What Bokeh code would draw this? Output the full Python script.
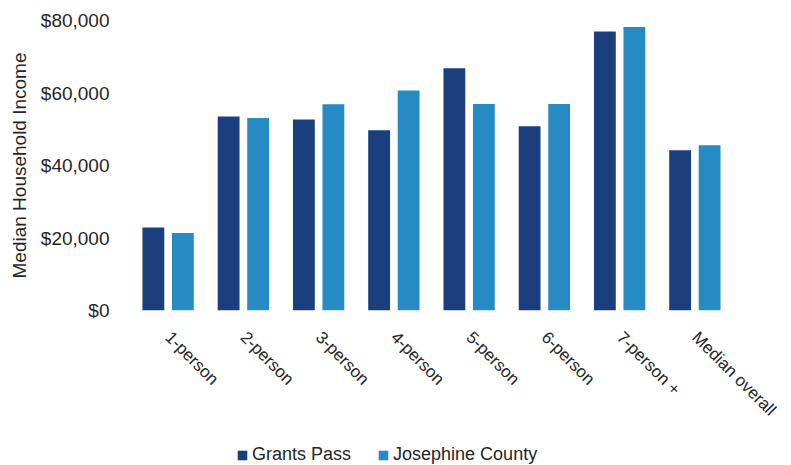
import math
from bokeh.plotting import figure
from bokeh.layouts import column
from bokeh.models import ColumnDataSource, FactorRange, Range1d, NumeralTickFormatter, FixedTicker, Legend, LegendItem
from bokeh.transform import dodge
from bokeh.embed import file_html
from bokeh.resources import INLINE

categories = ["1-person", "2-person", "3-person", "4-person", "5-person", "6-person", "7-person +", "Median overall"]
grants_pass = [22900, 53500, 52700, 49700, 66800, 50800, 77000, 44200]
josephine_county = [21400, 53100, 56900, 60700, 57000, 57000, 78200, 45600]
y_ticks = [0, 20000, 40000, 60000, 80000]
series_names = ["Grants Pass", "Josephine County"]

GP_COLOR = "#1b3f7c"
JC_COLOR = "#278bc3"
FONT = "Liberation Sans"
TEXT_COLOR = "#262626"

src = ColumnDataSource(dict(cat=categories, gp=grants_pass, jc=josephine_county))

p = figure(width=791, height=435, x_range=FactorRange(factors=categories),
           y_range=Range1d(0, 80000), output_backend="svg", toolbar_location=None,
           min_border_left=130, min_border_right=59, min_border_top=20, min_border_bottom=125)

r1 = p.vbar(x=dodge("cat", -0.196, range=p.x_range), top="gp", width=0.29, source=src,
            fill_color=GP_COLOR, line_color=None)
r2 = p.vbar(x=dodge("cat", 0.196, range=p.x_range), top="jc", width=0.29, source=src,
            fill_color=JC_COLOR, line_color=None)

p.outline_line_color = None
p.xgrid.grid_line_color = None
p.ygrid.grid_line_color = None

ya = p.yaxis[0]
ya.ticker = FixedTicker(ticks=y_ticks)
ya.formatter = NumeralTickFormatter(format="$0,0")
ya.axis_line_color = None
ya.major_tick_line_color = None
ya.minor_tick_line_color = None
ya.major_label_standoff = 15
ya.major_label_text_font = FONT
ya.major_label_text_font_size = "19px"
ya.major_label_text_color = TEXT_COLOR
ya.axis_label = "Median Household Income"
ya.axis_label_text_font = FONT
ya.axis_label_text_font_size = "19px"
ya.axis_label_text_font_style = "normal"
ya.axis_label_text_color = TEXT_COLOR
ya.axis_label_standoff = 8

xa = p.xaxis[0]
xa.axis_line_color = None
xa.major_tick_line_color = None
xa.minor_tick_line_color = None
xa.major_label_orientation = -math.pi / 4
xa.major_label_standoff = 18
xa.major_label_text_font = FONT
xa.major_label_text_font_size = "17px"
xa.major_label_text_color = TEXT_COLOR

# legend strip below the chart
lf = figure(width=791, height=30, x_range=Range1d(0, 1), y_range=Range1d(0, 1),
            output_backend="svg", toolbar_location=None,
            min_border_left=0, min_border_right=0, min_border_top=0, min_border_bottom=0)
lf.axis.visible = False
lf.grid.visible = False
lf.outline_line_color = None
placeholder = ColumnDataSource(dict(x=[float("nan")], top=[float("nan")]))
l1 = lf.vbar(x="x", top="top", width=0.1, source=placeholder, fill_color=GP_COLOR, line_color=None)
l2 = lf.vbar(x="x", top="top", width=0.1, source=placeholder, fill_color=JC_COLOR, line_color=None)

legend = Legend(items=[LegendItem(label=series_names[0], renderers=[l1]),
                       LegendItem(label=series_names[1], renderers=[l2])],
                orientation="horizontal", location=(106, 0),
                label_text_font=FONT, label_text_font_size="18px", label_text_color=TEXT_COLOR,
                glyph_width=12, glyph_height=12, label_standoff=4, spacing=26,
                padding=0, margin=0, border_line_color=None, background_fill_alpha=0)
lf.add_layout(legend, "center")

layout = column(p, lf, spacing=0)
open("out.html", "w").write(file_html(layout, INLINE))
